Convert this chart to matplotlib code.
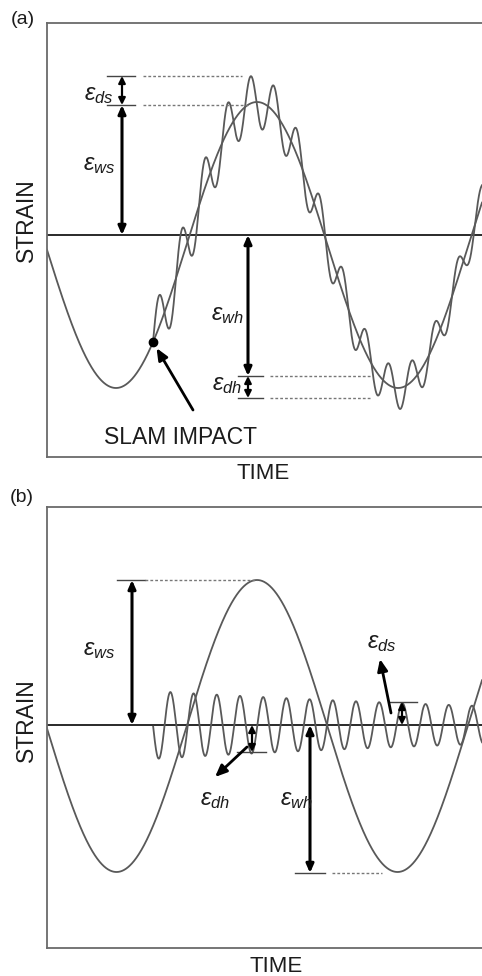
import numpy as np
import matplotlib
matplotlib.use("Agg")
import matplotlib.pyplot as plt

plt.rcParams['font.family'] = ['Liberation Sans', 'DejaVu Sans']
plt.rcParams['mathtext.fontset'] = 'custom'
plt.rcParams['mathtext.it'] = 'Liberation Sans:italic'
plt.rcParams['mathtext.rm'] = 'Liberation Sans'

W, H = 482, 976

# time axis is in "picture pixels" from the left frame, strain likewise from the zero line
# panel (a): wave (quasi-static) part
a_wave_offset = -10
a_wave_amp = 143
a_wave_peak_t = 210
a_wave_period = 282
# panel (a): whipping part starting at the slam
a_slam_t = 106
a_whip_amp = 32
a_whip_period = 23
a_whip_decay = 600
# panel (a): dimension levels
a_ds_top, a_ws_top = 159, 130
a_wh_bot, a_dh_bot = -141, -163

# panel (b)
b_wave_offset = -1
b_wave_amp = 146
b_wave_peak_t = 210
b_wave_period = 281
b_whip_start = 106
b_whip_amp = 34
b_whip_period = 23.2
b_whip_decay = 565
b_ws_top = 145
b_ds_top = 23
b_dh_bot = -27
b_wh_bot = -148

CURVE = '#595959'
TXT = '#1c1c1c'


def px(x, y):
    return x / W, 1 - y / H


def dim_arrow(ax, x, y1, y2, lw=2.0, hl=0.5, hw=0.22):
    ax.annotate('', xy=(x, y1), xytext=(x, y2),
                arrowprops=dict(arrowstyle=f'<|-|>,head_length={hl},head_width={hw}',
                                lw=lw, color='black', shrinkA=0, shrinkB=0))


def tick(ax, x1, x2, y):
    ax.plot([x1, x2], [y, y], color='#444444', lw=1.0)


def dotted(ax, x1, x2, y):
    ax.plot([x1, x2], [y, y], color='#777777', lw=1.0, ls=(0, (2, 1.5)))


def setup(ax, ylo, yhi):
    ax.set_xlim(0, 435)
    ax.set_ylim(ylo, yhi)
    ax.set_xticks([])
    ax.set_yticks([])
    for s in ['left', 'top', 'bottom']:
        ax.spines[s].set_color('#6a6a6a')
        ax.spines[s].set_linewidth(1.3)
    ax.spines['right'].set_visible(False)
    ax.axhline(0, color='#2a2a2a', lw=1.4)


fig = plt.figure(figsize=(W / 100, H / 100), dpi=100)

# ---------------- panel (a)
axa = fig.add_axes([47 / W, 1 - 457 / H, 435 / W, 434 / H])
setup(axa, -222, 212)
t = np.linspace(0, 435, 2000)
wave_a = a_wave_offset + a_wave_amp * np.cos(2 * np.pi * (t - a_wave_peak_t) / a_wave_period)
axa.plot(t, wave_a, color=CURVE, lw=1.3)
ts = t[t >= a_slam_t]
ws = a_wave_offset + a_wave_amp * np.cos(2 * np.pi * (ts - a_wave_peak_t) / a_wave_period)
whip = a_whip_amp * np.exp(-(ts - a_slam_t) / a_whip_decay) * np.sin(2 * np.pi * (ts - a_slam_t) / a_whip_period)
axa.plot(ts, ws + whip, color=CURVE, lw=1.3)

slam_y = a_wave_offset + a_wave_amp * np.cos(2 * np.pi * (a_slam_t - a_wave_peak_t) / a_wave_period)
axa.plot([a_slam_t], [slam_y], 'o', color='black', ms=6)
axa.annotate('', xy=(a_slam_t, slam_y), xytext=(146, -175),
             arrowprops=dict(arrowstyle='-|>,head_length=0.7,head_width=0.3',
                             lw=2, color='black', shrinkA=0, shrinkB=5))
axa.text(134, -202, 'SLAM IMPACT', ha='center', va='center', fontsize=16.5, color=TXT)

tick(axa, 60, 88, a_ds_top)
tick(axa, 60, 88, a_ws_top)
dotted(axa, 96, 195, a_ds_top)
dotted(axa, 96, 203, a_ws_top)
dim_arrow(axa, 75, a_ds_top, a_ws_top, lw=1.6, hl=0.4, hw=0.2)
dim_arrow(axa, 75, a_ws_top, 0, lw=2.2)
axa.text(52, 140, r'$\varepsilon_{ds}$', ha='center', va='center', fontsize=17, color=TXT)
axa.text(52, 70, r'$\varepsilon_{ws}$', ha='center', va='center', fontsize=17, color=TXT)

tick(axa, 191, 216, a_wh_bot)
tick(axa, 191, 216, a_dh_bot)
dotted(axa, 223, 323, a_wh_bot)
dotted(axa, 223, 323, a_dh_bot)
dim_arrow(axa, 201, 0, a_wh_bot, lw=2.2)
dim_arrow(axa, 201, a_wh_bot, a_dh_bot, lw=1.6, hl=0.4, hw=0.2)
axa.text(180, -80, r'$\varepsilon_{wh}$', ha='center', va='center', fontsize=17, color=TXT)
axa.text(180, -150, r'$\varepsilon_{dh}$', ha='center', va='center', fontsize=17, color=TXT)

# ---------------- panel (b)
axb = fig.add_axes([47 / W, 1 - 948 / H, 435 / W, 441 / H])
setup(axb, -223, 218)
wave_b = b_wave_offset + b_wave_amp * np.cos(2 * np.pi * (t - b_wave_peak_t) / b_wave_period)
axb.plot(t, wave_b, color=CURVE, lw=1.3)
tb = t[t >= b_whip_start]
whip_b = -b_whip_amp * np.exp(-(tb - b_whip_start) / b_whip_decay) * np.sin(2 * np.pi * (tb - b_whip_start) / b_whip_period)
axb.plot(tb, whip_b, color=CURVE, lw=1.3)

tick(axb, 70, 98, b_ws_top)
dotted(axb, 98, b_wave_peak_t, b_ws_top)
dim_arrow(axb, 85, b_ws_top, 0, lw=2.2)
axb.text(52, 75, r'$\varepsilon_{ws}$', ha='center', va='center', fontsize=17, color=TXT)

tick(axb, 343, 370, b_ds_top)
dim_arrow(axb, 355, b_ds_top, 0, lw=1.6, hl=0.4, hw=0.2)
axb.annotate('', xy=(333, 66), xytext=(344, 12),
             arrowprops=dict(arrowstyle='-|>,head_length=0.7,head_width=0.3',
                             lw=2, color='black', shrinkA=0, shrinkB=0))
axb.text(335, 82, r'$\varepsilon_{ds}$', ha='center', va='center', fontsize=17, color=TXT)

tick(axb, 190, 219, b_dh_bot)
dim_arrow(axb, 205, 0, b_dh_bot, lw=1.6, hl=0.4, hw=0.2)
axb.annotate('', xy=(168, -52), xytext=(200, -22),
             arrowprops=dict(arrowstyle='-|>,head_length=0.7,head_width=0.3',
                             lw=2, color='black', shrinkA=0, shrinkB=0))
axb.text(168, -75, r'$\varepsilon_{dh}$', ha='center', va='center', fontsize=17, color=TXT)

tick(axb, 248, 278, b_wh_bot)
dotted(axb, 285, 335, b_wh_bot)
dim_arrow(axb, 263, 0, b_wh_bot, lw=2.2)
axb.text(249, -75, r'$\varepsilon_{wh}$', ha='center', va='center', fontsize=17, color=TXT)

# ---------------- outside labels
fig.text(*px(23, 20), '(a)', ha='center', va='center', fontsize=14, color=TXT)
fig.text(*px(22, 498), '(b)', ha='center', va='center', fontsize=14, color=TXT)
fig.text(*px(26, 220), 'STRAIN', rotation=90, ha='center', va='center', fontsize=16.5, color=TXT)
fig.text(*px(26, 720), 'STRAIN', rotation=90, ha='center', va='center', fontsize=16.5, color=TXT)
fig.text(*px(263, 474), 'TIME', ha='center', va='center', fontsize=16, color=TXT)
fig.text(*px(276, 966), 'TIME', ha='center', va='center', fontsize=16, color=TXT)

fig.savefig('out.png', dpi=100)
